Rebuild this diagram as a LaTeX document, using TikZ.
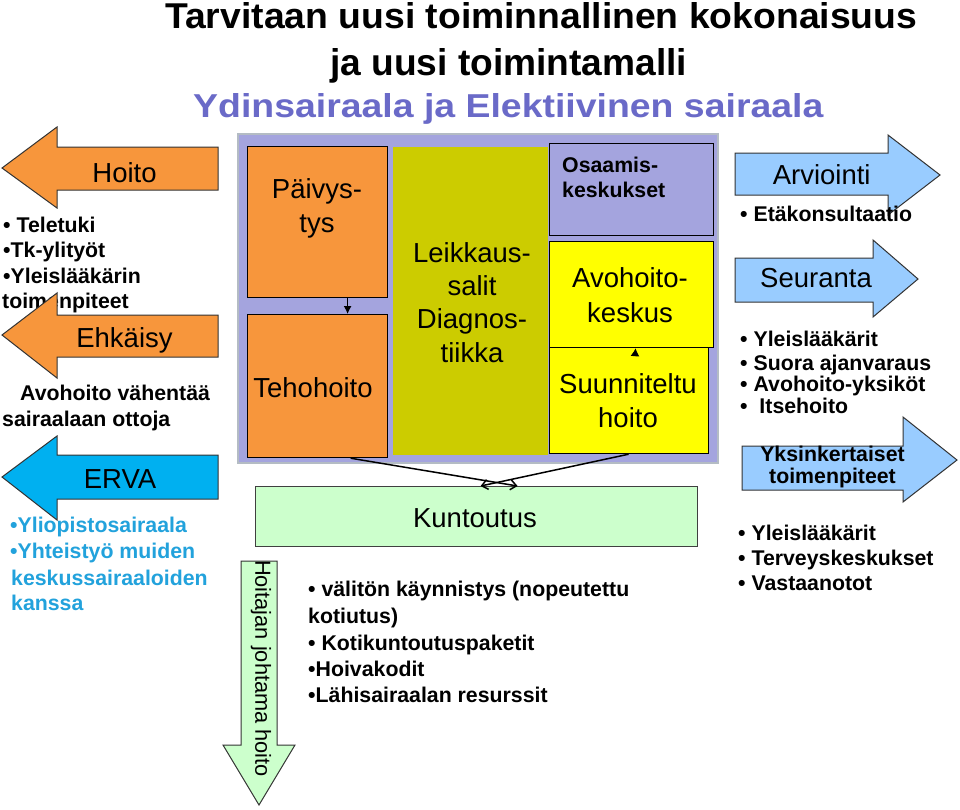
\documentclass[tikz,border=0pt]{standalone}
\usepackage{fontspec}
\usepackage{graphicx}
\setmainfont{Liberation Sans}
\usetikzlibrary{arrows.meta}
\definecolor{orng}{HTML}{F7963C}
\definecolor{lav}{HTML}{A4A4DE}
\definecolor{lavedge}{HTML}{B4BCC4}
\definecolor{olive}{HTML}{CCCC00}
\definecolor{yell}{HTML}{FFFF00}
\definecolor{lgreen}{HTML}{CCFFCC}
\definecolor{lblue}{HTML}{99CCFF}
\definecolor{erva}{HTML}{00B0F0}
\definecolor{bluetext}{HTML}{22A2DC}
\definecolor{titleblue}{HTML}{6A6AC8}
\newcommand{\fbig}{\fontsize{27.5}{33}\selectfont}
\newcommand{\fbul}{\fontsize{21.3}{25}\selectfont\bfseries}
\begin{document}
\begin{tikzpicture}[x=1pt,y=-1pt,
  lbl/.style={inner sep=0pt, anchor=base, font=\fbig},
  blt/.style={inner sep=0pt, anchor=base west, font=\fbul},
  boxx/.style={draw=black, line width=1.2pt, inner sep=0pt},
  blockarrow/.style={draw=black!80, line width=1pt, line join=miter},
  conn/.style={line width=1.5pt, draw=black}
]
\useasboundingbox (0,0) rectangle (960,809);
\fill[white] (0,0) rectangle (960,809);

% ---------- title ----------
\node[inner sep=0pt, anchor=base west] (t1) at (165,28)
  {\resizebox{752pt}{26pt}{\bfseries Tarvitaan uusi toiminnallinen kokonaisuus}};
\node[inner sep=0pt, anchor=base west] (t2) at (330,75)
  {\resizebox{357pt}{27pt}{\bfseries ja uusi toimintamalli}};
\node[inner sep=0pt, anchor=base west, text=titleblue] (t3) at (193,117)
  {\resizebox{630pt}{24pt}{\bfseries Ydinsairaala ja Elektiivinen sairaala}};

% ---------- central block ----------
\draw[fill=lav, draw=lavedge, line width=2.5pt] (238,134) rectangle (718,463);
\node[boxx, fill=orng, anchor=north west, minimum width=140pt, minimum height=151pt] (paiv) at (247,146) {};
\node[boxx, fill=orng, anchor=north west, minimum width=140pt, minimum height=143pt] (teho) at (247,314) {};
\node[inner sep=0pt, fill=olive, anchor=north west, minimum width=155pt, minimum height=308pt] (leik) at (393,147) {};
\node[boxx, fill=lav, anchor=north west, minimum width=164pt, minimum height=92pt] (osaa) at (549,143) {};
\node[boxx, fill=yell, anchor=north west, minimum width=159pt, minimum height=106pt] (suun) at (549,347) {};
\node[boxx, fill=yell, anchor=north west, minimum width=164pt, minimum height=106pt] (avo) at (549,241) {};

\node[lbl] (lpaiv1) at (317,198) {Päivys-};
\node[lbl] (lpaiv2) at (317,232) {tys};
\node[lbl] (lteho) at (313,397) {Tehohoito};
\node[lbl] (lleik1) at (472,262) {Leikkaus-};
\node[lbl] (lleik2) at (472,295) {salit};
\node[lbl] (lleik3) at (472,328) {Diagnos-};
\node[lbl] (lleik4) at (472,362) {tiikka};
\node[blt] (losaa1) at (562,172) {Osaamis-};
\node[blt] (losaa2) at (562,197) {keskukset};
\node[lbl] (lavo1) at (630,287) {Avohoito-};
\node[lbl] (lavo2) at (630,322) {keskus};
\node[lbl] (lsuun1) at (628,393.5) {Suunniteltu};
\node[lbl] (lsuun2) at (628,427) {hoito};

\draw[conn, line width=1.2pt, -{Latex[length=8pt,width=8pt]}] ([xshift=30pt]paiv.south) -- ([xshift=30pt]teho.north);
\coordinate (sa) at (635,356);
\draw[conn, line width=1.2pt, -{Latex[length=8pt,width=9pt]}] (sa) -- ([xshift=4pt]avo.south);

% ---------- Kuntoutus ----------
\node[draw=black!75, line width=1.2pt, fill=lgreen, anchor=north west, minimum width=442pt, minimum height=60pt, inner sep=0pt] (kunt) at (255,486) {};
\node[lbl] (lkunt) at (475,527) {Kuntoutus};
\draw[conn, -{Straight Barb[length=6pt,width=10pt]}] ([xshift=33pt]teho.south) -- ([xshift=41pt]kunt.north);
\draw[conn, -{Straight Barb[length=6pt,width=10pt]}] ([xshift=-0.5pt]suun.south) -- ([xshift=4pt]kunt.north);

\node[blt] (m1) at (308,596.7) {• välitön käynnistys (nopeutettu};
\node[blt] (m2) at (308,623.3) {kotiutus)};
\node[blt] (m3) at (308,650) {• Kotikuntoutuspaketit};
\node[blt] (m4) at (308,676.7) {•Hoivakodit};
\node[blt] (m5) at (308,702.3) {•Lähisairaalan resurssit};

% ---------- Hoitajan johtama hoito ----------
\draw[blockarrow, fill=lgreen] (241,561) -- (277,561) -- (277,745) -- (295,745) -- (259,805) -- (223,745) -- (241,745) -- cycle;
\node[inner sep=0pt, rotate=-90, font=\fontsize{21.8}{25}\selectfont] (hjh) at (261,668.5) {Hoitajan johtama hoito};

% ---------- left side ----------
\node[blt] (l1) at (3,232) {• Teletuki};
\node[blt] (l2) at (3,257.5) {•Tk-ylityöt};
\node[blt] (l3) at (3,283) {•Yleislääkärin};
\node[blt] (l4) at (2,308.5) {toimenpiteet};

\draw[blockarrow, fill=orng] (218,147) -- (57,147) -- (57,127) -- (2,168) -- (57,208) -- (57,190) -- (218,190) -- cycle;
\node[lbl] (lhoito) at (124.5,182) {Hoito};
\draw[blockarrow, fill=orng] (218,315) -- (57,315) -- (57,293) -- (2,335) -- (57,378) -- (57,357) -- (218,357) -- cycle;
\node[lbl] (lehk) at (124.5,347) {Ehkäisy};

\node[blt] (a1) at (20,400) {Avohoito vähentää};
\node[blt] (a2) at (2,426) {sairaalaan ottoja};

\draw[blockarrow, fill=erva] (218,455) -- (57,455) -- (57,436) -- (2,477) -- (57,520) -- (57,499) -- (218,499) -- cycle;
\node[lbl] (lerva) at (120,488) {ERVA};

\node[blt, text=bluetext] (b1) at (10,532.7) {•Yliopistosairaala};
\node[blt, text=bluetext] (b2) at (10,558.3) {•Yhteistyö muiden};
\node[blt, text=bluetext] (b3) at (11,585) {keskussairaaloiden};
\node[blt, text=bluetext] (b4) at (11,610.7) {kanssa};

% ---------- right side ----------
\draw[blockarrow, fill=lblue] (735,153) -- (888,153) -- (888,135) -- (940,175) -- (888,215) -- (888,195) -- (735,195) -- cycle;
\node[lbl] (larv) at (821.7,184) {Arviointi};
\node[blt] (r1) at (740,221.7) {• Etäkonsultaatio};

\draw[blockarrow, fill=lblue] (735,258) -- (873,258) -- (873,240) -- (918,279) -- (873,317) -- (873,302) -- (735,302) -- cycle;
\node[lbl] (lseur) at (816,287) {Seuranta};
\node[blt] (r2) at (740,346.7) {• Yleislääkärit};
\node[blt] (r3) at (740,370) {• Suora ajanvaraus};
\node[blt] (r4) at (740,391.7) {• Avohoito-yksiköt};
\node[blt] (r5) at (740,413.3) {•~ Itsehoito};

\draw[blockarrow, fill=lblue] (742,446) -- (903,446) -- (903,417) -- (957,460) -- (903,502) -- (903,490) -- (742,490) -- cycle;
\node[inner sep=0pt, anchor=base, font=\fbul] (lyks1) at (832.5,461.7) {Yksinkertaiset};
\node[inner sep=0pt, anchor=base, font=\fbul] (lyks2) at (832.5,483.3) {toimenpiteet};

\node[blt] (r6) at (738,540.7) {• Yleislääkärit};
\node[blt] (r7) at (738,565) {• Terveyskeskukset};
\node[blt] (r8) at (738,590) {• Vastaanotot};
\end{tikzpicture}
\end{document}
